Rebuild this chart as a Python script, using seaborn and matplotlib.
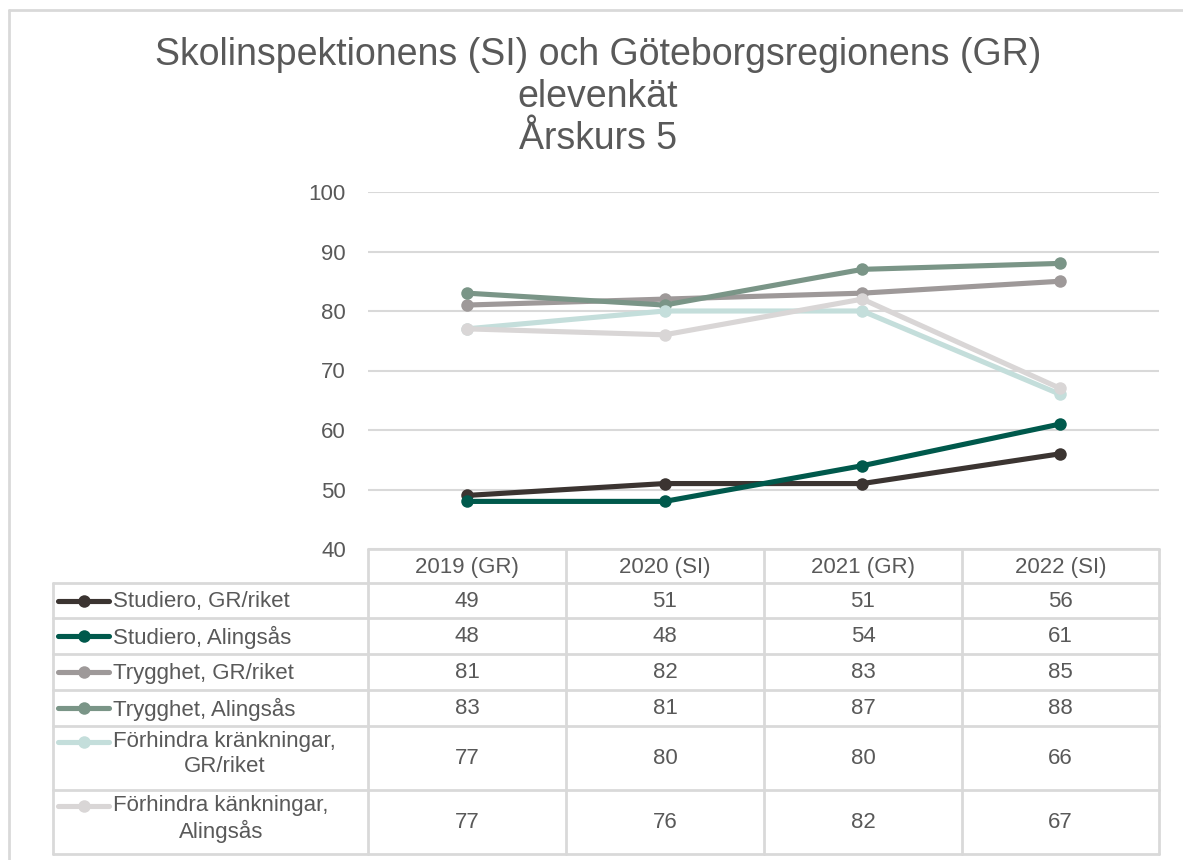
import matplotlib
matplotlib.use("Agg")
import matplotlib.pyplot as plt
import seaborn as sns
import pandas as pd
from matplotlib.lines import Line2D

years = ["2019 (GR)", "2020 (SI)", "2021 (GR)", "2022 (SI)"]
series_names = [
    "Studiero, GR/riket",
    "Studiero, Alingsås",
    "Trygghet, GR/riket",
    "Trygghet, Alingsås",
    "Förhindra kränkningar,\nGR/riket",
    "Förhindra känkningar,\nAlingsås",
]
studiero_gr = [49, 51, 51, 56]
studiero_al = [48, 48, 54, 61]
trygghet_gr = [81, 82, 83, 85]
trygghet_al = [83, 81, 87, 88]
krank_gr = [77, 80, 80, 66]
krank_al = [77, 76, 82, 67]
values = [studiero_gr, studiero_al, trygghet_gr, trygghet_al, krank_gr, krank_al]
colors = ["#3B3431", "#00594C", "#9E9999", "#7A9587", "#C4DEDB", "#D9D6D6"]
title = "Skolinspektionens (SI) och Göteborgsregionens (GR)\nelevenkät\nÅrskurs 5"

rows = []
for name, vals in zip(series_names, values):
    for y, v in zip(years, vals):
        rows.append({"year": y, "value": v, "series": name})
df = pd.DataFrame(rows)

sns.set_theme(style="white")
plt.rcParams["font.family"] = ["Liberation Sans", "DejaVu Sans"]
TXT = "#595959"
GRID = "#D9D9D9"
FS = 16

W, H = 1183, 860
fig = plt.figure(figsize=(W / 100, H / 100), dpi=100)

def fx(px):
    return px / W

def fy(py):
    return 1 - py / H

# plot axes
x0, x1 = 368, 1159
ytop, ybot = 192, 549
ax = fig.add_axes([fx(x0), fy(ybot), fx(x1 - x0), (ybot - ytop) / H])
sns.lineplot(data=df, x="year", y="value", hue="series", palette=colors,
             hue_order=series_names, marker="o", markersize=9, markeredgewidth=0,
             linewidth=3.7, sort=False, legend=False, ax=ax)
ax.set_xlim(-0.5, 3.5)
ax.set_ylim(40, 100)
ax.set_yticks(range(40, 101, 10))
ax.yaxis.grid(True, color=GRID, linewidth=1.5)
ax.set_axisbelow(True)
ax.set_xticks([])
ax.set_xlabel("")
ax.set_ylabel("")
for s in ax.spines.values():
    s.set_visible(False)
ax.tick_params(axis="y", length=0, pad=16, labelsize=FS, labelcolor=TXT)

# title
fig.text(fx(598), fy(97), title, ha="center", va="center", fontsize=27,
         color=TXT, linespacing=1.22)

# overlay axes for table
tx = fig.add_axes([0, 0, 1, 1], facecolor="none")
tx.set_xlim(0, W)
tx.set_ylim(H, 0)
tx.axis("off")

lc = dict(color=GRID, linewidth=2)
# outer chart frame
tx.plot([9, 1183], [10, 10], color=GRID, linewidth=2)
tx.plot([9, 9], [10, 860], color=GRID, linewidth=2)

col_edges = [368, 566, 764, 962, 1159]
row_edges = [583, 618, 654, 690, 726, 790, 854]
left = 53
# header row
tx.plot([368, 1159], [549, 549], **lc)
for xe in col_edges:
    tx.plot([xe, xe], [549, 854], **lc)
for ye in row_edges:
    tx.plot([left, 1159], [ye, ye], **lc)
tx.plot([left, left], [583, 854], **lc)

for i, yr in enumerate(years):
    cx = (col_edges[i] + col_edges[i + 1]) / 2
    tx.text(cx, 567, yr, ha="center", va="center", fontsize=FS, color=TXT)

for r, (name, vals, c) in enumerate(zip(series_names, values, colors)):
    ya, yb = row_edges[r], row_edges[r + 1]
    cy = (ya + yb) / 2
    multi = "\n" in name
    ky = ya + 16 if multi else cy
    tx.add_line(Line2D([58, 109], [ky, ky], color=c, linewidth=3.7,
                       solid_capstyle="round"))
    tx.add_line(Line2D([84], [ky], marker="o", markersize=9, color=c,
                       markeredgewidth=0))
    if multi:
        tx.text(113, ya + 5, name, ha="left", va="top", fontsize=FS,
                color=TXT, multialignment="center", linespacing=1.22)
    else:
        tx.text(113, cy + 1, name, ha="left", va="center", fontsize=FS, color=TXT)
    for i, v in enumerate(vals):
        cx = (col_edges[i] + col_edges[i + 1]) / 2
        tx.text(cx, cy + 1, str(v), ha="center", va="center", fontsize=FS, color=TXT)

fig.savefig("out.png", dpi=100, facecolor="white")
